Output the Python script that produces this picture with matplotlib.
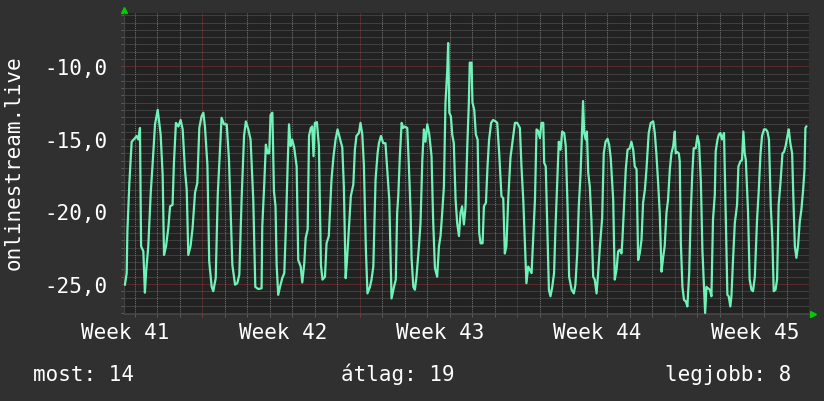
import matplotlib.pyplot as plt
from matplotlib.ticker import FixedLocator, NullFormatter

# time axis in days from the start of week 41
days = [
    3.55, 3.63, 3.66, 3.75, 3.85, 4.00, 4.07, 4.15, 4.22, 4.27,
    4.37, 4.44, 4.49, 4.59, 4.70, 4.78, 4.89, 5.01, 5.08, 5.14,
    5.23, 5.29, 5.38, 5.48, 5.56, 5.67, 5.73, 5.82, 5.93, 6.03,
    6.12, 6.22, 6.30, 6.37, 6.47, 6.56, 6.67, 6.77, 6.86, 6.96,
    7.04, 7.11, 7.22, 7.30, 7.41, 7.48, 7.59, 7.68, 7.78, 7.85,
    7.96, 8.08, 8.18, 8.25, 8.33, 8.45, 8.55, 8.64, 8.74, 8.85,
    8.93, 9.04, 9.14, 9.26, 9.35, 9.48,
    9.63, 9.66, 9.75, 9.82, 9.90, 9.97, 10.03, 10.11, 10.18, 10.25,
    10.30, 10.37, 10.45, 10.55, 10.64, 10.71, 10.79, 10.85, 10.92, 10.99,
    11.08, 11.19, 11.26, 11.37, 11.44, 11.53, 11.59, 11.68, 11.74, 11.82,
    11.88, 11.94, 12.00, 12.09, 12.18, 12.27, 12.34, 12.45, 12.52, 12.62,
    12.74, 12.83, 12.92, 13.01, 13.11, 13.22, 13.29, 13.37, 13.43, 13.51,
    13.60, 13.71, 13.78, 13.85, 13.96, 14.03, 14.11, 14.18, 14.27, 14.34,
    14.45, 14.52, 14.60, 14.70, 14.79, 14.85, 14.94, 15.04, 15.14, 15.23,
    15.31, 15.38,
    15.41, 15.52, 15.60, 15.66, 15.71, 15.78, 15.86, 15.93, 16.00, 16.11,
    16.18, 16.26, 16.30, 16.38, 16.45, 16.52, 16.63, 16.70, 16.78, 16.85,
    16.92, 17.00, 17.09, 17.19, 17.26, 17.34, 17.44, 17.52, 17.59, 17.66,
    17.74, 17.81, 17.89, 17.93, 17.98, 18.05, 18.11, 18.18, 18.26, 18.33,
    18.41, 18.48, 18.55, 18.63, 18.70, 18.78, 18.85, 18.89, 18.97, 19.01,
    19.09, 19.16, 19.24, 19.31, 19.37, 19.46, 19.52, 19.61, 19.68, 19.75,
    19.84, 19.93, 20.04, 20.11, 20.20, 20.30, 20.38, 20.45, 20.52, 20.60,
    20.70, 20.79, 20.90, 21.00, 21.12, 21.19, 21.27, 21.34, 21.41, 21.49,
    21.64, 21.71, 21.79, 21.86, 21.93, 22.01, 22.08, 22.16, 22.20, 22.27,
    22.33, 22.41, 22.48, 22.56, 22.64, 22.70, 22.78, 22.85, 22.93, 23.00,
    23.09, 23.16, 23.24, 23.31, 23.42, 23.52, 23.59, 23.67, 23.74, 23.82,
    23.89, 23.93, 23.98, 24.05, 24.10, 24.16, 24.23, 24.30, 24.38, 24.45,
    24.53, 24.60, 24.68, 24.78, 24.85, 24.93, 25.02, 25.09, 25.16, 25.27,
    25.34, 25.42, 25.49, 25.56, 25.64, 25.68, 25.76, 25.83, 25.91, 26.01,
    26.08, 26.16, 26.23, 26.31, 26.38, 26.45, 26.53, 26.60, 26.68, 26.75,
    26.85, 26.94, 27.05, 27.12, 27.19, 27.27, 27.34,
    27.42, 27.49, 27.56, 27.64, 27.71, 27.79, 27.86, 27.94, 28.01, 28.05,
    28.11, 28.19, 28.23, 28.28, 28.35, 28.42, 28.50, 28.57, 28.65, 28.72,
    28.79, 28.85, 28.94, 29.02, 29.09, 29.17, 29.24, 29.31, 29.36, 29.42,
    29.49, 29.57, 29.64, 29.71, 29.79, 29.83, 29.91, 29.97, 30.04, 30.11,
    30.20, 30.28, 30.35, 30.41, 30.48, 30.53, 30.60, 30.68, 30.78, 30.84,
    30.93, 31.00, 31.06, 31.12, 31.17, 31.27, 31.34, 31.42, 31.49, 31.57,
    31.67, 31.74, 31.82, 31.89, 31.98, 32.06, 32.13, 32.20, 32.28, 32.35,
    32.41, 32.49, 32.56, 32.63, 32.71, 32.80, 32.87, 32.94, 33.02, 33.08,
    33.15, 33.23, 33.27, 33.35, 33.42, 33.49, 33.57, 33.64, 33.72, 33.78,
    33.82, 33.86,
]
values = [
    -25.05, -24.25, -21.4, -18.0, -15.2, -14.95, -14.8, -15.05, -14.25, -22.4,
    -22.75, -25.6, -24.25, -22.4, -18.7, -16.8, -14.0, -13.0, -13.9, -14.7,
    -17.5, -23.0, -22.4, -21.15, -19.65, -19.55, -16.7, -13.9, -14.15, -13.7,
    -14.35, -17.1, -18.5, -23.0, -22.4, -21.15, -18.7, -18.05, -14.25, -13.45,
    -13.2, -14.15, -16.8, -23.45, -25.2, -25.5, -24.6, -18.85, -15.75, -13.55,
    -14.0, -14.0, -16.45, -19.9, -23.7, -25.05, -24.95, -24.35, -19.2, -14.8,
    -13.8, -14.35, -15.05, -19.2, -25.2, -25.35,
    -25.3, -21.05, -18.05, -15.4, -16.0, -16.0, -13.35, -13.2, -18.6, -19.65,
    -23.7, -25.75, -25.2, -24.6, -24.25, -21.15, -16.8, -14.0, -15.5, -15.05,
    -15.6, -16.9, -23.35, -23.8, -24.9, -23.55, -21.85, -21.25, -14.8, -14.25,
    -14.15, -16.2, -13.9, -13.85, -15.5, -23.7, -24.7, -24.5, -22.2, -21.7,
    -17.8, -16.2, -15.05, -14.35, -14.95, -15.6, -18.3, -24.6, -23.35, -21.25,
    -18.95, -18.15, -15.75, -14.8, -14.6, -13.9, -14.7, -16.8, -22.65, -25.65,
    -25.2, -24.7, -23.8, -17.8, -16.0, -15.3, -14.8, -15.3, -15.3, -17.35,
    -19.2, -24.0,
    -26.0, -25.2, -24.7, -20.1, -18.95, -16.2, -13.9, -14.25, -14.15, -14.25,
    -16.8, -20.1, -23.2, -25.2, -25.4, -24.5, -22.4, -20.8, -16.45, -14.35,
    -15.2, -14.0, -14.7, -16.2, -20.55, -23.9, -24.5, -22.4, -21.7, -20.2,
    -18.3, -12.5, -10.25, -8.4, -13.2, -13.45, -14.7, -15.3, -19.2, -20.8,
    -21.7, -20.1, -19.65, -20.9, -19.75, -15.5, -12.5, -9.75, -9.75, -12.5,
    -13.0, -14.7, -15.05, -21.5, -22.2, -22.2, -19.65, -19.4, -16.9, -15.05,
    -13.9, -13.7, -13.8, -13.9, -16.0, -18.95, -19.1, -22.9, -22.4, -19.2,
    -16.3, -15.2, -13.9, -13.9, -14.25, -16.9, -19.2, -22.05, -24.95, -23.8,
    -24.25, -21.95, -19.2, -14.35, -14.45, -14.95, -13.9, -13.9, -16.65, -16.9,
    -20.55, -25.4, -25.85, -25.2, -24.25, -21.25, -17.95, -15.2, -15.75, -14.5,
    -14.6, -15.5, -19.65, -24.5, -25.4, -25.65, -25.05, -22.9, -19.65, -17.35,
    -14.15, -12.4, -14.6, -15.05, -14.5, -17.35, -18.3, -20.55, -24.5, -24.7,
    -25.65, -24.25, -22.4, -20.45, -16.0, -15.2, -15.0, -15.4, -16.3, -19.2,
    -24.7, -24.0, -22.75, -22.65, -22.9, -21.95, -19.4, -17.1, -15.75, -15.65,
    -15.2, -15.75, -16.9, -17.1, -23.35, -22.9, -21.95, -19.4, -18.5, -17.1,
    -14.6, -13.9, -13.8, -14.6, -16.0, -18.05, -20.1,
    -24.15, -23.2, -22.4, -20.1, -19.2, -17.1, -16.0, -15.5, -14.5, -16.0,
    -15.9, -16.0, -16.55, -22.2, -25.2, -26.1, -26.2, -26.55, -24.25, -20.1,
    -17.35, -15.65, -15.65, -14.8, -15.3, -17.95, -22.75, -25.2, -27.0, -25.2,
    -25.3, -25.4, -25.85, -20.55, -18.85, -15.85, -15.05, -14.7, -14.6, -15.05,
    -14.6, -20.45, -25.75, -25.85, -26.55, -25.85, -23.35, -20.8, -19.55, -16.9,
    -16.55, -16.45, -14.5, -16.0, -16.45, -20.1, -24.7, -25.4, -25.5, -24.5,
    -20.55, -18.7, -16.1, -14.8, -14.35, -14.35, -14.5, -15.05, -19.65, -21.95,
    -25.5, -25.4, -24.7, -19.55, -18.05, -16.0, -15.9, -15.5, -14.8, -14.35,
    -15.3, -16.0, -18.3, -22.4, -23.2, -22.4, -20.7, -19.9, -18.5, -17.1,
    -14.25, -14.15,
]

week_starts = [7, 14, 21, 28]
week_labels = ["Week 41", "Week 42", "Week 43", "Week 44", "Week 45"]
week_label_pos = [3.57, 10.57, 17.57, 24.57, 31.57]
day_lines = [d for d in range(4, 34) if d % 7 != 0]
y_major = [-25, -20, -15, -10]
y_major_labels = ["-25,0", "-20,0", "-15,0", "-10,0"]
y_minor = [-27 + 0.5 * i for i in range(42)]

legend_items = ["most: 14", "átlag: 19", "legjobb: 8"]

W, H = 824, 402
MONO = "DejaVu Sans Mono"
TXT = "#ffffff"
BG = "#303030"
GRID = "#5c5c5c"
GRID_MAJ = "#8a3434"

fig = plt.figure(figsize=(W / 100, H / 100), dpi=100, facecolor=BG)
ax = fig.add_axes([124 / W, 1 - 315 / H, 685 / W, 301 / H])
ax.set_facecolor("#222222")

ax.set_xlim(3.51, 33.98)
ax.set_ylim(-27.07, -6.33)

# daily grid lines
ax.vlines(day_lines, -27.07, -6.33, colors="#707070", linestyles=(0, (1, 1)),
          linewidth=0.75, zorder=1)

ax.plot(days, values, color="#70f2b8", lw=1.6, zorder=3)

ax.xaxis.set_major_locator(FixedLocator(week_starts))
ax.xaxis.set_minor_locator(FixedLocator(day_lines))
ax.xaxis.set_major_formatter(NullFormatter())
ax.set_yticks(y_major, y_major_labels)
ax.yaxis.set_minor_locator(FixedLocator(y_minor))

ax.set_axisbelow(True)
ax.yaxis.grid(True, which="minor", color=GRID, linestyle=(0, (1, 1)), linewidth=0.72)
ax.grid(which="major", color=GRID_MAJ, linestyle=(0, (1, 1)), linewidth=0.72)

ax.tick_params(which="both", direction="out", length=2.2, width=0.72, color=GRID)
ax.tick_params(which="major", color=GRID_MAJ)
ax.tick_params(axis="y", which="major", pad=10, labelsize=15, labelcolor=TXT)
for lab in ax.get_yticklabels():
    lab.set_fontfamily(MONO)

for s in ["top", "right"]:
    ax.spines[s].set_visible(False)
for s in ["left", "bottom"]:
    ax.spines[s].set_color("#444444")
    ax.spines[s].set_linewidth(0.72)

for pos, lab in zip(week_label_pos, week_labels):
    ax.text(pos, -24 / 301, lab, transform=ax.get_xaxis_transform(), ha="center",
            va="baseline", fontsize=15, family=MONO, color=TXT, clip_on=False)

# axis arrows
ax.plot([0], [1 + 3.5 / 301], marker="^", markersize=5, color="#00cc00",
        transform=ax.transAxes, clip_on=False)
ax.plot([1 + 4 / 685], [0], marker=">", markersize=5, color="#00cc00",
        transform=ax.transAxes, clip_on=False)

fig.text(14 / W, 1 - 163 / H, "onlinestream.live", rotation=90, ha="center",
         va="center", fontsize=15, family=MONO, color=TXT)

fig.text(33 / W, 1 - 381 / H, legend_items[0], ha="left", va="baseline",
         fontsize=15, family=MONO, color=TXT)
fig.text(398 / W, 1 - 381 / H, legend_items[1], ha="center", va="baseline",
         fontsize=15, family=MONO, color=TXT)
fig.text(791 / W, 1 - 381 / H, legend_items[2], ha="right", va="baseline",
         fontsize=15, family=MONO, color=TXT)

fig.savefig("out.png", dpi=100, facecolor=BG)
